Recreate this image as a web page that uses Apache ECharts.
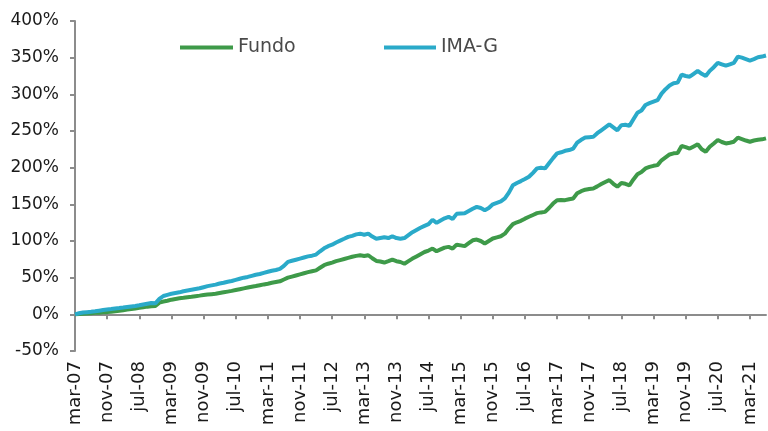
<!DOCTYPE html>
<html>
<head>
<meta charset="utf-8">
<script src="https://cdn.jsdelivr.net/npm/echarts@6/dist/echarts.min.js"></script>
<style>
html,body{margin:0;padding:0;background:#fff;}
#chart{width:768px;height:431px;}
</style>
</head>
<body>
<div id="chart"></div>
<script>
// Month names (Portuguese abbreviations) and span of the series
var monthNames = ['jan','fev','mar','abr','mai','jun','jul','ago','set','out','nov','dez'];
var startYear = 2007, startMonth = 2; // mar-07
var nPoints = 173; // mar-07 .. jul-21

// Y axis ticks
var yMin = -50, yMax = 400, yStep = 50;

// Series values (cumulative return, %)
var fundo = [
0,0.5,0.8,1.2,1.6,2,2.3,2.7,3,3.6,4.3,5,5.7,6.4,7.2,8,
9,9.8,10.5,11,11.5,16,17.5,18.5,20,21,21.8,22.5,23.3,24,24.8,25.5,
26.3,27,27.5,28,29,30,31,32,33.2,34.3,35.4,36.5,37.6,38.6,39.7,40.8,
41.8,43,44,45,47.5,50,51.5,53,54.5,56,57.5,58.8,60,63.5,67,69,
70.5,72.5,74,75.5,77,78.5,79.7,80.5,79.5,80.6,76.5,72.8,72,70.6,72.5,74.7,
72.5,71.4,69,72.5,76,79,82,85,87,89.7,86,88.5,91,92,89.7,95,
94,93,97,101,102,100,96.6,100,103.4,105,106.5,110,117,123,125.5,127.5,
130.5,133,135.5,138,139,139.7,145,151,155.7,156,155.7,157,158,165,168,170,
171,171.7,174.5,177.6,180.5,183,178,174,179,178,176,184,191,194,199,201,
202.5,203.5,210,214,218,219.5,220,229.5,228,226,229,232,225,221.7,228.5,233,
237.7,235,233,234,235.4,241,239,237,235.4,237,238,238.6,240
];
var imag = [
0,1.5,2.5,3,3.5,4.2,5,5.8,6.5,7.2,8,8.5,9.2,10,10.8,11.3,
12.3,13.5,14.5,15.5,15,21,25,26.5,28,29,30,31.5,32.5,33.5,34.5,35.5,
37,38.5,39.5,40.5,42,43,44.5,45.5,47,48.5,50,51,52.5,54,55,56.5,
58,59.5,60.5,62,66,71.5,73,74.5,76,77.5,79,80,81.5,86,90,93,
95,98,100.5,103,105.6,107,109,110,108.5,110,106,103,104,105,104,106.5,
104,103,104,108,112,115,118,120.6,123,129,124.7,128,131,133,130,137,
137.5,138,141,144,146.6,145,142,145,150,152,154,158,166,176,179,181.7,
184.5,187.6,193,199,200,199,206,213,219.5,221,223,224,226,234,238,241,
241.5,242,247,251,255,259,255,251,258,258.5,257,266,275,278,285.5,288,
290,292,301,307,312,315,316,327,325,324,328,332,328,325,332,337,
343,341,339,341,343,351.5,350,348,346,348,350.5,351.5,353
];

var categories = [];
for (var k = 0; k < nPoints; k++) {
  var m = (startMonth + k) % 12;
  var y = startYear + Math.floor((startMonth + k) / 12);
  categories.push(monthNames[m] + '-' + String(y % 100).padStart(2, '0'));
}

var FONT = '"DejaVu Sans", sans-serif';
var axisGray = '#8c8c8c';
var chart = echarts.init(document.getElementById('chart'), null, {renderer: 'canvas'});
chart.setOption({
  animation: false,
  backgroundColor: '#ffffff',
  grid: {left: 75, right: 2, top: 21, bottom: 80, containLabel: false, outerBoundsMode: 'none'},
  legend: [
    {data: ['Fundo'], left: 180, top: 38, padding: 0, itemWidth: 53, itemHeight: 4, icon: 'rect', itemGap: 0,
     textStyle: {fontFamily: FONT, fontSize: 19, color: '#4a4a4a'}},
    {data: ['IMA-G'], left: 384, top: 38, padding: 0, itemWidth: 52, itemHeight: 4, icon: 'rect', itemGap: 0,
     textStyle: {fontFamily: FONT, fontSize: 19, color: '#4a4a4a'}}
  ],
  xAxis: {
    type: 'category',
    data: categories,
    boundaryGap: false,
    axisLine: {onZero: true, lineStyle: {color: axisGray, width: 2}},
    axisTick: {show: true, interval: 7, length: 5, lineStyle: {color: axisGray, width: 2}},
    axisLabel: {interval: 7, rotate: 90, margin: 10, fontFamily: FONT, fontSize: 18, color: '#1a1a1a'},
    splitLine: {show: false}
  },
  yAxis: {
    type: 'value',
    min: yMin, max: yMax, interval: yStep,
    axisLine: {show: true, lineStyle: {color: axisGray, width: 2}},
    axisTick: {show: true, length: 5, lineStyle: {color: axisGray, width: 2}},
    axisLabel: {formatter: '{value}%', margin: 16, fontFamily: FONT, fontSize: 17, color: '#1a1a1a'},
    splitLine: {show: false}
  },
  series: [
    {name: 'Fundo', type: 'line', data: fundo, showSymbol: false, symbol: 'none',
     lineStyle: {width: 4, color: '#3e9a49'}, itemStyle: {color: '#3e9a49'}},
    {name: 'IMA-G', type: 'line', data: imag, showSymbol: false, symbol: 'none',
     lineStyle: {width: 4, color: '#2aaac9'}, itemStyle: {color: '#2aaac9'}}
  ]
});
</script>
</body>
</html>
